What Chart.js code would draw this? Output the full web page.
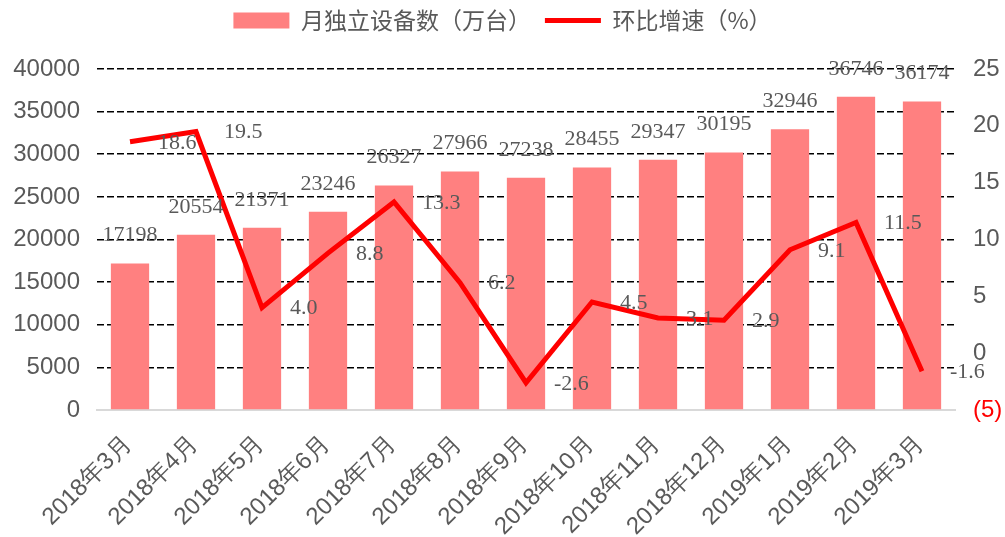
<!DOCTYPE html>
<html>
<head>
<meta charset="utf-8">
<script src="https://cdn.jsdelivr.net/npm/chart.js@4.4.1/dist/chart.umd.min.js"></script>
<style>
  html, body { margin: 0; padding: 0; background: #fff; }
  #wrap { width: 1005px; height: 537px; }
</style>
</head>
<body>
<div id="wrap"><canvas id="devChart"></canvas></div>
<script>
// months
const months = ["2018年3月", "2018年4月", "2018年5月", "2018年6月", "2018年7月", "2018年8月", "2018年9月",
  "2018年10月", "2018年11月", "2018年12月", "2019年1月", "2019年2月", "2019年3月"];
// 月独立设备数（万台）
const devices = [17198, 20554, 21371, 23246, 26327, 27966, 27238, 28455, 29347, 30195, 32946, 36746, 36174];
// 环比增速（%）
const growth = [18.6, 19.5, 4.0, 8.8, 13.3, 6.2, -2.6, 4.5, 3.1, 2.9, 9.1, 11.5, -1.6];

const grey = '#595959';
const sansFont = "'Liberation Sans', Arial, sans-serif";
const cjkFont = "'Noto Sans CJK SC', 'Liberation Sans', sans-serif";
const serifFont = "'Liberation Serif', 'DejaVu Serif', serif";

// extra room under the legend
const legendGap = {
  id: 'legendGap',
  beforeInit(chart) {
    const fit = chart.legend.fit;
    chart.legend.fit = function () {
      fit.call(this);
      this.height += 27;
    };
  }
};

// value labels for bars + line
const valueLabels = {
  id: 'valueLabels',
  afterDatasetsDraw(chart) {
    const ctx = chart.ctx;
    ctx.save();
    ctx.font = '22px ' + serifFont;
    ctx.fillStyle = grey;
    ctx.textBaseline = 'middle';

    const barMeta = chart.getDatasetMeta(0);
    ctx.textAlign = 'center';
    barMeta.data.forEach((bar, i) => {
      ctx.fillText(String(devices[i]), bar.x, bar.y - 28);
    });

    const lineMeta = chart.getDatasetMeta(1);
    ctx.textAlign = 'left';
    lineMeta.data.forEach((pt, i) => {
      ctx.fillText(growth[i].toFixed(1), pt.x + 28, pt.y + 1);
    });
    ctx.restore();
  }
};

const chart = new Chart(document.getElementById('devChart').getContext('2d'), {
  type: 'bar',
  data: {
    labels: months,
    datasets: [{
      label: '月独立设备数（万台）',
      data: devices,
      backgroundColor: '#FF8080',
      barPercentage: 0.58,
      categoryPercentage: 1,
      pointStyle: 'rect',
      yAxisID: 'y',
      order: 2
    }, {
      type: 'line',
      label: '环比增速（%）',
      data: growth,
      borderColor: '#FF0000',
      backgroundColor: '#FF0000',
      borderWidth: 5,
      pointRadius: 0,
      pointHoverRadius: 0,
      pointStyle: 'line',
      pointBorderColor: '#FF0000',
      pointBorderWidth: 5,
      tension: 0,
      yAxisID: 'y1',
      order: 1
    }]
  },
  options: {
    responsive: true,
    maintainAspectRatio: false,
    animation: false,
    layout: { padding: { top: -5, left: 0, right: 0, bottom: 0 } },
    scales: {
      x: {
        grid: { display: false, drawTicks: false },
        border: { display: true, color: '#d9d9d9', width: 2 },
        ticks: {
          color: grey,
          font: { size: 24, family: sansFont },
          maxRotation: 45,
          minRotation: 45,
          padding: 20,
          labelOffset: -2
        },
        afterFit(scale) { scale.height = 127; }
      },
      y: {
        position: 'left',
        min: 0,
        max: 40000,
        ticks: {
          stepSize: 5000,
          color: grey,
          font: { size: 24, family: sansFont },
          padding: 17,
          callback: (v) => String(v)
        },
        grid: {
          drawTicks: false,
          color: (c) => c.tick && c.tick.value === 0 ? 'rgba(0,0,0,0)' : '#000',
          lineWidth: 1.6
        },
        border: { display: false, dash: [7, 3] },
        afterFit(scale) { scale.width = 97; }
      },
      y1: {
        position: 'right',
        min: -5,
        max: 25,
        ticks: {
          stepSize: 5,
          color: (c) => c.tick && c.tick.value < 0 ? '#FF0000' : grey,
          font: { size: 24, family: sansFont },
          padding: 18,
          callback: (v) => v < 0 ? '(' + Math.abs(v) + ')' : String(v)
        },
        grid: { display: false, drawTicks: false },
        border: { display: false },
        afterFit(scale) { scale.width = 50; }
      }
    },
    plugins: {
      legend: {
        position: 'top',
        labels: {
          usePointStyle: true,
          pointStyleWidth: 56,
          boxHeight: 16,
          color: grey,
          font: { size: 23, family: cjkFont },
          padding: 14,
          sort: (a, b) => a.datasetIndex - b.datasetIndex
        }
      },
      tooltip: { enabled: false }
    }
  },
  plugins: [legendGap, valueLabels]
});
</script>
</body>
</html>
